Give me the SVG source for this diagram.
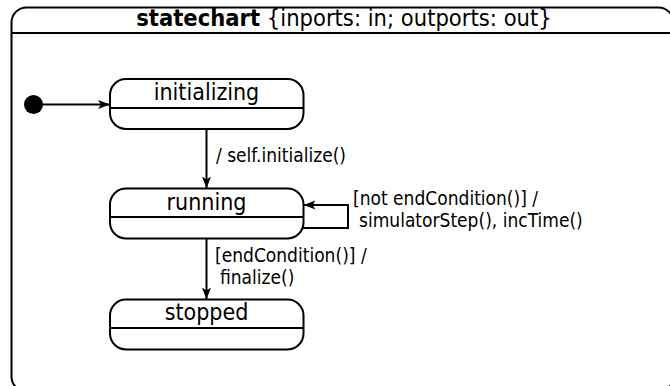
<svg xmlns="http://www.w3.org/2000/svg" width="670" height="386" viewBox="0 0 670 386">
  <style>
    .frame { fill: #ffffff; stroke: #000000; stroke-width: 2; }
    .state { fill: #ffffff; stroke: #000000; stroke-width: 2; }
    .rule { stroke: #000000; stroke-width: 2; fill: none; }
    .edge { stroke: #000000; stroke-width: 2; fill: none; marker-end: url(#arrow); }
    text { font-family: "DejaVu Sans Condensed", "DejaVu Sans", sans-serif; font-stretch: condensed; fill: #000000; }
    .title { font-size: 23.5px; text-anchor: middle; }
    .name { font-size: 23px; text-anchor: middle; }
    .label { font-size: 19px; }
  </style>
  <defs>
    <marker id="arrow" markerUnits="userSpaceOnUse" markerWidth="14" markerHeight="10" refX="12" refY="4.5" orient="auto">
      <path d="M0,0 L12,4.5 L0,9 L3,4.5 z" fill="#000000"/>
    </marker>
  </defs>

  <!-- enclosing statechart frame -->
  <g id="statechart">
    <rect class="frame" x="11.5" y="7.5" width="662" height="384" rx="15" ry="15"/>
    <line class="rule" x1="11.5" y1="33" x2="673.5" y2="33"/>
    <text class="title" x="344" y="26"><tspan font-weight="bold">statechart</tspan> {inports: in; outports: out}</text>
  </g>

  <g id="initial">
    <circle cx="33.5" cy="104.5" r="9.5" fill="#000000"/>
  </g>

  <g id="initializing">
    <rect class="state" x="110" y="79" width="193.5" height="50" rx="16" ry="16"/>
    <line class="rule" x1="110" y1="108" x2="303.5" y2="108"/>
    <text class="name" x="206.5" y="100">initializing</text>
  </g>

  <g id="running">
    <rect class="state" x="110" y="188.5" width="193.5" height="50" rx="16" ry="16"/>
    <line class="rule" x1="110" y1="217" x2="303.5" y2="217"/>
    <text class="name" x="206.5" y="209.5">running</text>
  </g>

  <g id="stopped">
    <rect class="state" x="110" y="299.5" width="193.5" height="50" rx="16" ry="16"/>
    <line class="rule" x1="110" y1="328" x2="303.5" y2="328"/>
    <text class="name" x="206.5" y="320">stopped</text>
  </g>

  <g id="connectors">
    <path class="edge" d="M43,104.5 L110,104.5"/>
    <path class="edge" d="M206.5,129 L206.5,188.5"/>
    <path class="edge" d="M303,228 L348,228 L348,205 L303.5,205"/>
    <path class="edge" d="M206.5,238.5 L206.5,299.5"/>
    <text class="label" x="216" y="162">/ self.initialize()</text>
    <text class="label" x="353" y="205">[not endCondition()] /</text>
    <text class="label" x="359" y="227">simulatorStep(), incTime()</text>
    <text class="label" x="215" y="262">[endCondition()] /</text>
    <text class="label" x="220" y="284">finalize()</text>
  </g>
</svg>
